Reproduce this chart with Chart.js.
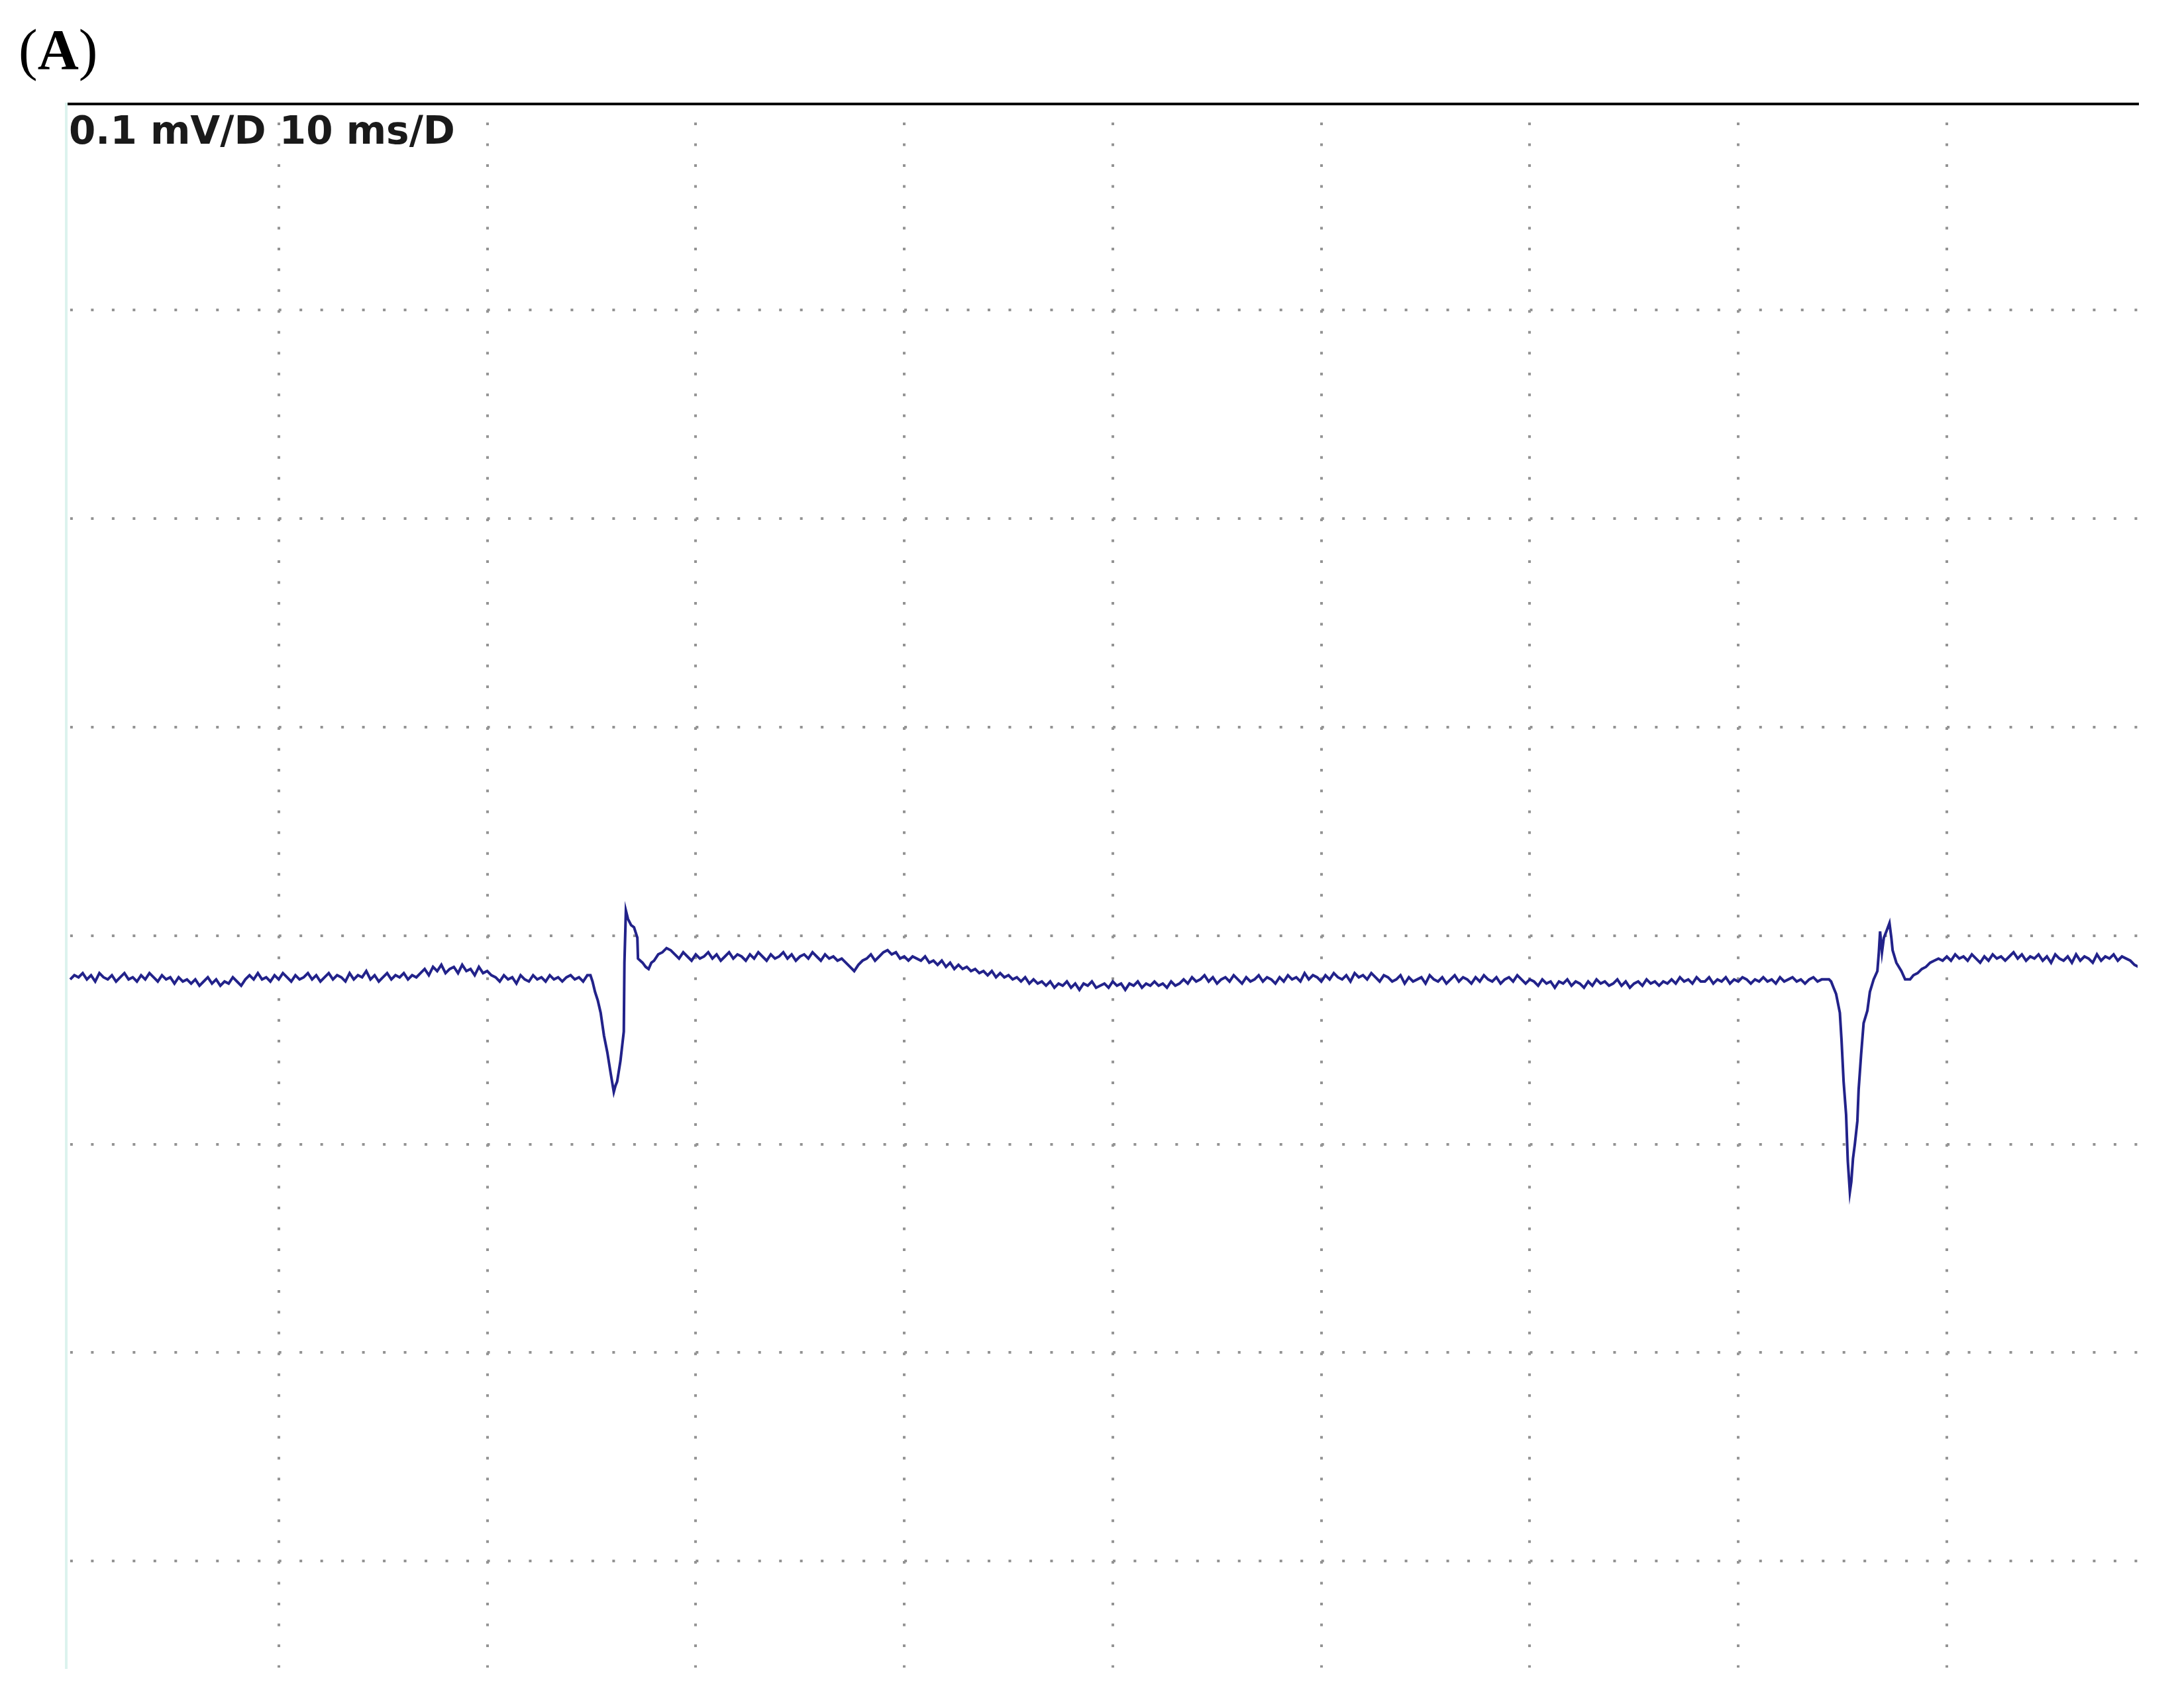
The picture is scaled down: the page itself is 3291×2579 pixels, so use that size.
<!DOCTYPE html>
<html>
<head>
<meta charset="utf-8">
<script src="https://cdn.jsdelivr.net/npm/chart.js@4/dist/chart.umd.min.js"></script>
<style>
  html, body { margin: 0; padding: 0; background: #fff; }
  #wrap { position: relative; width: 3291px; height: 2579px; }
  #panel {
    position: absolute; left: 28px; top: 32px;
    font-family: "Liberation Serif", "DejaVu Serif", serif;
    font-size: 86px; line-height: 1; color: #000;
  }
  #panel b { font-weight: bold; }
  #scaleLabel {
    position: absolute; left: 104px; top: 168px;
    font-family: "DejaVu Sans", sans-serif; font-weight: bold;
    font-size: 58px; line-height: 1; color: #1a1a1a; white-space: pre;
  }
</style>
</head>
<body>
<div id="wrap">
  <canvas id="scope" width="3291" height="2579"></canvas>
  <div id="panel">(<b>A</b>)</div>
  <div id="scaleLabel">0.1 mV/D 10 ms/D</div>
</div>
<script>
// trace in µV, time in ms (10 ms / div, 100 µV / div)
const SAMPLE_MS = 0.2;

const BASE_1_START_MS = 0;
const BASE_1_UV = [
  -21,-19,-20,-18,-21,-19,-22,-18,-20,-21,-19,-22,-20,-18,-21,-20,-22,-19,-21,-18,-20,-22,-19,-21,-20,-23,-20,-22,
  -21,-23,-21,-24,-22,-20,-23,-21,-24,-22,-23,-20,-22,-24,-21,
  -19,-21,-18,-21,-20,-22,-19,-21,-18,-20,-22,-19,-21,-20,-18,-21,-19,-22,-20,-18,-21,-19,-20,-22,-18,-21,-19,-20,-17,-21,-19,-22,-20,-18,-21,-19,-20,-18,-21,-19,-20,
  -18,-16,-19,-15,-17,-14,-18,-16,-15,-18,-14,-17,-16,-19,-15,-18,-17,-19,
  -20,-22,-19,-21,-20,-23,-19,-21,-22,-19,-21,-20,-22,-19,-21,-20,-22,-20,-19,-21,-20,-22,-19
];

const SPIKE_1_MS = [24.95, 25.05, 25.17, 25.30, 25.44, 25.60, 25.76, 25.92, 26.07, 26.15, 26.23, 26.39, 26.55, 26.58, 26.65, 26.75, 26.90, 27.04, 27.20, 27.23, 27.45, 27.60, 27.74, 27.87];
const SPIKE_1_UV = [-19, -22, -27, -31, -37, -48, -56, -66, -75, -72, -70, -60, -46, -13, 12, 8, 5, 4, -1, -11, -13, -15, -16, -13];

const BASE_2_START_MS = 28.0;
const BASE_2_UV = [
  -12,-9,-8,-6,-7,
  -9,-11,-8,-10,-12,-9,-11,-10,-8,-11,-9,-12,-10,-8,-11,-9,-10,-12,-9,-11,-8,-10,-12,-9,-11,-10,-8,-11,-9,-12,-10,-9,-11,-8,-10,-12,-9,-11,-10,-12,-11,-13,
  -15,-17,-14,-12,
  -11,-9,-12,-10,-8,-7,-9,-8,-11,-10,-12,-10,-11,
  -12,-10,-13,-12,-14,-12,-15,-13,-16,-14,-16,-15,-17,-16,-18,-17,-19,-17,-20,-18,-20,-19,-21,-20,-22,-20,-23,-21,-23,-22,
  -24,-22,-25,-23,-24,-22,-25,-23,-26,-23,-24,-22,-25,-24,-23,-25,-22,-24,-23,-26,-23,-24,-22,-25,-23,-24,-22,-24,-23,-25,-22,-24,-23,
  -21,-23,-20,-22,-21,-19,-22,-20,-23,-21,-20,-22,-19,-21,-23,-20,-22,-21,-19,-22,-20,-21,-23,-20,-22,-19,-21,-20,-22,-18,-21,-19,-20,-22,-19,-21,-18,-20,-21,-19,-22,-18,-20,-19,-21,-18,-20,-22,-19,
  -20,-22,-21,-19,-23,-20,-22,-21,-20,-23,-19,-21,-22,-20,-23,-21,-19,-22,-20,-21,-23,-20,-22,-19,-21,-22,-20,-23,-21,-20,-22,-19,-21,-23,-21,
  -22,-24,-21,-23,-22,-25,-22,-23,-21,-24,-22,-23,-25,-22,-24,-21,-23,-22,-24,-23,-21,-24,-22,-25,-23,-22,-24,-21,-23,-22,-24,-22,-23,
  -21,-23,-20,-22,-21,-23,-20,-22,-22,-20,-23,-21,-22,-20,-23,-21,-22,-20,-21,-23,-21,-22,-20,-22,-21,-23,-20,-22,-21,-20,-22,-21,-23,-21,-20,-22,-21,-21
];

const SPIKE_2_MS = [84.35, 84.45, 84.57, 84.69, 84.87, 84.95, 85.05, 85.17, 85.25, 85.35, 85.42, 85.50, 85.59, 85.71, 85.77, 85.89, 86.01, 86.19, 86.31, 86.49, 86.67, 86.74, 86.80, 86.89, 86.98, 87.10, 87.25, 87.34, 87.40, 87.58, 87.82, 88.00, 88.24];
const SPIKE_2_UV = [-21, -22, -25, -28, -37, -50, -70, -86, -108, -123, -118, -107, -100, -89, -74, -57, -42, -36, -27, -21, -17, -8, 2, -8, -1, 2, 6, -1, -7, -13, -17, -21, -21];

const BASE_3_START_MS = 88.4;
const BASE_3_UV = [
  -19,-18,-16,-15,-13,-12,-11,-12,-10,-12,-9,-11,-10,-12,-9,-11,-13,-10,-12,-9,
  -11,-10,-12,-10,-8,-11,-9,-12,-10,-11,-9,-12,-10,-13,-9,-11,-12,-10,-13,-9,
  -12,-10,-11,-13,-9,-12,-10,-11,-9,-12,-10,-11,-12,-14,-15
];

// division lines (ms and µV)
const X_GRID_MS = [10, 20, 30, 40, 50, 60, 70, 80, 90];
const Y_GRID_UV = [300, 200, 100, 0, -100, -200, -300];

function sampled(start, values) {
  return values.map((v, i) => ({ x: +(start + i * SAMPLE_MS).toFixed(3), y: v }));
}
function paired(times, values) {
  return times.map((t, i) => ({ x: t, y: values[i] }));
}

const trace = [
  ...sampled(BASE_1_START_MS, BASE_1_UV),
  ...paired(SPIKE_1_MS, SPIKE_1_UV),
  ...sampled(BASE_2_START_MS, BASE_2_UV),
  ...paired(SPIKE_2_MS, SPIKE_2_UV),
  ...sampled(BASE_3_START_MS, BASE_3_UV),
];

const DOT = [4, 27.48];

new Chart(document.getElementById('scope'), {
  type: 'line',
  data: {
    datasets: [{
      data: trace,
      borderColor: '#22228a',
      borderWidth: 4,
      pointRadius: 0,
      tension: 0,
      fill: false,
    }],
  },
  options: {
    responsive: false,
    animation: false,
    events: [],
    layout: { padding: { left: 100, right: 64, top: 157, bottom: 61 } },
    plugins: { legend: { display: false }, tooltip: { enabled: false } },
    scales: {
      x: {
        type: 'linear',
        position: 'top',
        min: -0.19,
        max: 99.15,
        afterBuildTicks: s => { s.ticks = X_GRID_MS.map(v => ({ value: v })); },
        ticks: { display: false },
        grid: { color: '#939393', lineWidth: 4, drawTicks: false, borderDash: DOT, borderDashOffset: 5.48 },
        border: { display: true, color: '#000', width: 4, dash: DOT, dashOffset: 5.48 },
      },
      y: {
        type: 'linear',
        position: 'left',
        min: -351.1,
        max: 398.9,
        afterBuildTicks: s => { s.ticks = Y_GRID_UV.map(v => ({ value: v })); },
        ticks: { display: false },
        grid: { color: '#939393', lineWidth: 4, drawTicks: false, borderDash: DOT, borderDashOffset: 27.58 },
        border: { display: true, color: '#dcf3ee', width: 4, dash: DOT, dashOffset: 27.58 },
      },
    },
  },
});
</script>
</body>
</html>
